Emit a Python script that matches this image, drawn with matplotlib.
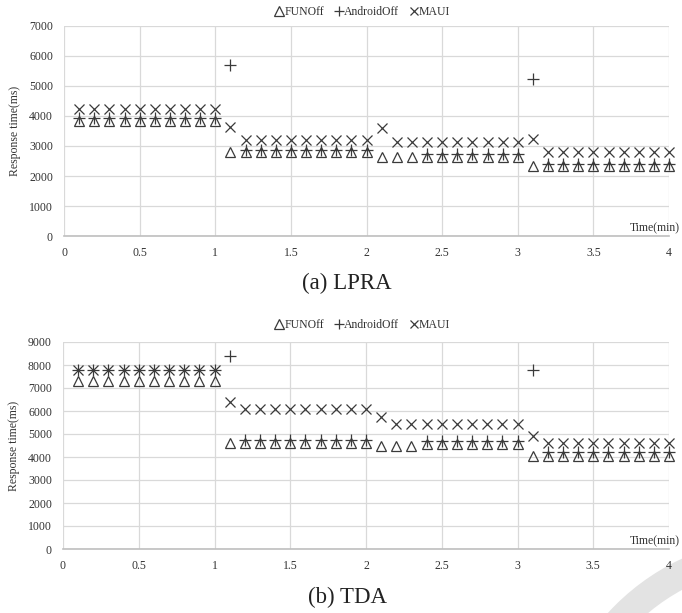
import numpy as np
import matplotlib
matplotlib.use("Agg")
import matplotlib.pyplot as plt
from matplotlib.patches import Wedge

plt.rcParams['font.family'] = ['Liberation Serif', 'DejaVu Serif']

time_min = [round(0.1 * i, 1) for i in range(1, 41)]

# (a) LPRA
lpra_funoff = [3850]*10 + [2800]*10 + [2650]*10 + [2350]*10
lpra_android = [3950]*10 + [5700] + [2870]*9 + [np.nan]*3 + [2720]*7 + [5250] + [2400]*9
lpra_maui = [4250]*10 + [3650] + [3200]*9 + [3600] + [3150]*9 + [3250] + [2800]*9

# (b) TDA
tda_funoff = [7300]*10 + [4600]*10 + [4500]*3 + [4550]*7 + [4050]*10
tda_android = [7800]*10 + [8400] + [4750]*9 + [np.nan]*3 + [4700]*7 + [7800] + [4200]*9
tda_maui = [7800]*10 + [6400] + [6100]*9 + [5750] + [5450]*9 + [4900] + [4600]*9

x_ticks = [0, 0.5, 1, 1.5, 2, 2.5, 3, 3.5, 4]
x_tick_labels = ["0", "0.5", "1", "1.5", "2", "2.5", "3", "3.5", "4"]
series_names = ["FUNOff", "AndroidOff", "MAUI"]

fig = plt.figure(figsize=(6.82, 6.13), dpi=100)
W, H = 682, 613

# light grey decorative arc in the bottom-right corner (behind everything)
bg_ax = fig.add_axes([0, 0, 1, 1], zorder=-1)
bg_ax.set_xlim(0, W)
bg_ax.set_ylim(H, 0)
bg_ax.axis('off')
bg_ax.add_patch(Wedge((780, 770), 233, 0, 360, width=28, facecolor='#e3e3e3', edgecolor='none'))

def make_axes(left, top, right, bottom):
    return fig.add_axes([left / W, 1 - bottom / H, (right - left) / W, (bottom - top) / H])

ax_a = make_axes(64, 26, 669, 236)
ax_b = make_axes(63, 342, 669, 549)
for a in (ax_a, ax_b):
    a.patch.set_alpha(0)

mcol = '#3a3a3a'

def draw(ax, fun, andr, maui, ymax, legend_y, caption, caption_y):
    h1, = ax.plot(time_min, fun, linestyle='none', marker='^', markersize=7.5,
                  markerfacecolor='none', markeredgecolor=mcol, markeredgewidth=0.9, clip_on=False)
    h2, = ax.plot(time_min, andr, linestyle='none', marker='+', markersize=8,
                  markeredgecolor=mcol, markeredgewidth=0.9, clip_on=False)
    h3, = ax.plot(time_min, maui, linestyle='none', marker='x', markersize=6.5,
                  markeredgecolor=mcol, markeredgewidth=0.9, clip_on=False)
    ax.set_xlim(0, 4)
    ax.set_ylim(0, ymax)
    ax.set_xticks(x_ticks)
    ax.set_xticklabels(x_tick_labels)
    ax.set_yticks(np.arange(0, ymax + 1, 1000))
    ax.grid(True, color='#d9d9d9', linewidth=0.9)
    ax.set_axisbelow(True)
    for s in ['top', 'right', 'left']:
        ax.spines[s].set_visible(False)
    ax.spines['bottom'].set_color('#bfbfbf')
    ax.spines['bottom'].set_linewidth(1.2)
    ax.tick_params(length=0, labelsize=8.5, colors='#333333', pad=8)
    ax.set_ylabel("Response time(ms)", fontsize=8.5, color='#333333', labelpad=6)
    ax.text(680 / W, 0.01, "Time(min)", transform=ax.get_yaxis_transform() if False else
            matplotlib.transforms.blended_transform_factory(fig.transFigure, ax.transAxes),
            fontsize=8.5, color='#333333', ha='right', va='bottom')
    fig.legend([h1, h2, h3], series_names, loc='center', bbox_to_anchor=(363 / W, 1 - legend_y / H),
               ncol=3, frameon=False, fontsize=8.5, handlelength=0.6, handletextpad=0.1,
               columnspacing=1.0, markerscale=0.9, labelcolor='#333333')
    fig.text(347 / W, 1 - caption_y / H, caption, fontsize=16.5, ha='center', va='center', color='#222222')

draw(ax_a, lpra_funoff, lpra_android, lpra_maui, 7000, 12, "(a) LPRA", 283)
draw(ax_b, tda_funoff, tda_android, tda_maui, 9000, 325, "(b) TDA", 597)

fig.savefig("out.png", dpi=100)
